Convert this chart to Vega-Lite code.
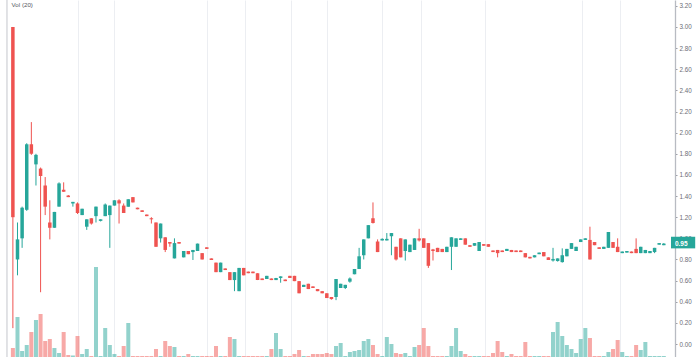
{
  "$schema": "https://vega.github.io/schema/vega-lite/v6.json",
  "width": 675,
  "height": 357,
  "autosize": {"type": "none"},
  "padding": {"left": 0, "top": 0, "right": 25, "bottom": 0},
  "background": "#ffffff",
  "config": {
    "view": {"stroke": null},
    "font": "Liberation Sans",
    "axisY": {"tickCount": 17, "format": ".2f", "title": null, "grid": true, "gridColor": "#eceef2",
              "labelOverlap": false, "labelBound": false, "labelFlush": false,
              "domainColor": "#b8bbc2", "domainWidth": 1.3, "tickColor": "#9a9da5", "tickSize": 2,
              "labelFontSize": 6.3, "labelColor": "#6a6d75", "labelPadding": 2, "labelFont": "Liberation Sans"}
  },
  "data": {"values": [
    {"i":0,"o":3.00,"h":3.00,"l":0.15,"c":1.20,"v":90},
    {"i":1,"o":0.80,"h":1.15,"l":0.65,"c":0.99,"v":400},
    {"i":2,"o":1.00,"h":1.30,"l":0.91,"c":1.29,"v":60},
    {"i":3,"o":1.27,"h":1.90,"l":1.26,"c":1.89,"v":120},
    {"i":4,"o":1.89,"h":2.10,"l":1.79,"c":1.80,"v":250},
    {"i":5,"o":1.70,"h":1.80,"l":1.50,"c":1.79,"v":370},
    {"i":6,"o":1.66,"h":1.67,"l":0.49,"c":1.59,"v":430},
    {"i":7,"o":1.50,"h":1.58,"l":1.22,"c":1.30,"v":160},
    {"i":8,"o":1.15,"h":1.36,"l":0.99,"c":1.10,"v":180},
    {"i":9,"o":1.10,"h":1.25,"l":1.10,"c":1.25,"v":90},
    {"i":10,"o":1.30,"h":1.53,"l":1.30,"c":1.52,"v":40},
    {"i":11,"o":1.46,"h":1.53,"l":1.44,"c":1.44,"v":250},
    {"i":12,"o":1.405,"h":1.41,"l":1.39,"c":1.39,"v":20},
    {"i":13,"o":1.33,"h":1.345,"l":1.30,"c":1.345,"v":15},
    {"i":14,"o":1.33,"h":1.34,"l":1.23,"c":1.24,"v":210},
    {"i":15,"o":1.22,"h":1.28,"l":1.22,"c":1.28,"v":30},
    {"i":16,"o":1.11,"h":1.18,"l":1.08,"c":1.18,"v":80},
    {"i":17,"o":1.19,"h":1.19,"l":1.13,"c":1.14,"v":10},
    {"i":18,"o":1.21,"h":1.30,"l":1.15,"c":1.30,"v":900},
    {"i":19,"o":1.165,"h":1.18,"l":1.16,"c":1.18,"v":10},
    {"i":20,"o":1.21,"h":1.33,"l":1.21,"c":1.32,"v":290},
    {"i":21,"o":1.22,"h":1.31,"l":0.91,"c":1.31,"v":120},
    {"i":22,"o":1.31,"h":1.36,"l":1.31,"c":1.36,"v":30},
    {"i":23,"o":1.36,"h":1.37,"l":1.14,"c":1.33,"v":10},
    {"i":24,"o":1.31,"h":1.33,"l":1.24,"c":1.24,"v":110},
    {"i":25,"o":1.30,"h":1.37,"l":1.30,"c":1.37,"v":340},
    {"i":26,"o":1.39,"h":1.39,"l":1.34,"c":1.34,"v":10},
    {"i":27,"o":1.29,"h":1.29,"l":1.275,"c":1.275,"v":10},
    {"i":28,"o":1.265,"h":1.265,"l":1.25,"c":1.25,"v":10},
    {"i":29,"o":1.225,"h":1.225,"l":1.21,"c":1.21,"v":10},
    {"i":30,"o":1.19,"h":1.20,"l":1.14,"c":1.18,"v":10},
    {"i":31,"o":1.15,"h":1.15,"l":0.92,"c":0.92,"v":80},
    {"i":32,"o":1.00,"h":1.14,"l":0.96,"c":1.14,"v":10},
    {"i":33,"o":1.01,"h":1.01,"l":0.87,"c":0.89,"v":160},
    {"i":34,"o":0.965,"h":0.965,"l":0.92,"c":0.95,"v":110},
    {"i":35,"o":0.81,"h":1.00,"l":0.81,"c":0.955,"v":100},
    {"i":36,"o":0.965,"h":0.965,"l":0.95,"c":0.95,"v":10},
    {"i":37,"o":0.82,"h":0.88,"l":0.82,"c":0.88,"v":10},
    {"i":38,"o":0.88,"h":0.88,"l":0.85,"c":0.85,"v":30},
    {"i":39,"o":0.87,"h":0.89,"l":0.795,"c":0.89,"v":10},
    {"i":40,"o":0.88,"h":0.95,"l":0.88,"c":0.95,"v":10},
    {"i":41,"o":0.86,"h":0.86,"l":0.80,"c":0.80,"v":10},
    {"i":42,"o":0.915,"h":0.915,"l":0.90,"c":0.90,"v":10},
    {"i":43,"o":0.81,"h":0.81,"l":0.795,"c":0.795,"v":10},
    {"i":44,"o":0.77,"h":0.77,"l":0.68,"c":0.68,"v":110},
    {"i":45,"o":0.68,"h":0.77,"l":0.68,"c":0.77,"v":10},
    {"i":46,"o":0.715,"h":0.715,"l":0.70,"c":0.70,"v":10},
    {"i":47,"o":0.68,"h":0.68,"l":0.605,"c":0.605,"v":200},
    {"i":48,"o":0.605,"h":0.68,"l":0.50,"c":0.68,"v":180},
    {"i":49,"o":0.50,"h":0.72,"l":0.50,"c":0.72,"v":10},
    {"i":50,"o":0.72,"h":0.72,"l":0.65,"c":0.65,"v":10},
    {"i":51,"o":0.685,"h":0.685,"l":0.67,"c":0.67,"v":10},
    {"i":52,"o":0.685,"h":0.685,"l":0.67,"c":0.67,"v":10},
    {"i":53,"o":0.67,"h":0.67,"l":0.605,"c":0.605,"v":10},
    {"i":54,"o":0.62,"h":0.62,"l":0.605,"c":0.605,"v":10},
    {"i":55,"o":0.615,"h":0.645,"l":0.615,"c":0.645,"v":10},
    {"i":56,"o":0.62,"h":0.62,"l":0.605,"c":0.605,"v":80},
    {"i":57,"o":0.605,"h":0.625,"l":0.605,"c":0.625,"v":240},
    {"i":58,"o":0.625,"h":0.64,"l":0.58,"c":0.64,"v":80},
    {"i":59,"o":0.61,"h":0.61,"l":0.595,"c":0.595,"v":10},
    {"i":60,"o":0.645,"h":0.645,"l":0.625,"c":0.625,"v":10},
    {"i":61,"o":0.645,"h":0.645,"l":0.595,"c":0.595,"v":30},
    {"i":62,"o":0.595,"h":0.595,"l":0.48,"c":0.48,"v":70},
    {"i":63,"o":0.54,"h":0.56,"l":0.54,"c":0.56,"v":10},
    {"i":64,"o":0.57,"h":0.57,"l":0.52,"c":0.52,"v":10},
    {"i":65,"o":0.545,"h":0.545,"l":0.53,"c":0.53,"v":30},
    {"i":66,"o":0.52,"h":0.52,"l":0.50,"c":0.50,"v":30},
    {"i":67,"o":0.50,"h":0.50,"l":0.48,"c":0.48,"v":30},
    {"i":68,"o":0.48,"h":0.48,"l":0.435,"c":0.435,"v":40},
    {"i":69,"o":0.445,"h":0.445,"l":0.42,"c":0.425,"v":30},
    {"i":70,"o":0.445,"h":0.615,"l":0.415,"c":0.615,"v":110},
    {"i":71,"o":0.53,"h":0.57,"l":0.53,"c":0.57,"v":140},
    {"i":72,"o":0.53,"h":0.56,"l":0.52,"c":0.56,"v":10},
    {"i":73,"o":0.59,"h":0.63,"l":0.58,"c":0.62,"v":50},
    {"i":74,"o":0.66,"h":0.71,"l":0.66,"c":0.71,"v":60},
    {"i":75,"o":0.71,"h":0.91,"l":0.71,"c":0.83,"v":70},
    {"i":76,"o":0.84,"h":0.99,"l":0.80,"c":0.99,"v":160},
    {"i":77,"o":1.00,"h":1.125,"l":1.00,"c":1.125,"v":180},
    {"i":78,"o":1.19,"h":1.34,"l":1.14,"c":1.145,"v":120},
    {"i":79,"o":0.97,"h":0.99,"l":0.87,"c":0.87,"v":30},
    {"i":80,"o":0.98,"h":1.00,"l":0.98,"c":0.995,"v":10},
    {"i":81,"o":0.98,"h":1.05,"l":0.98,"c":0.995,"v":200},
    {"i":82,"o":1.02,"h":1.05,"l":0.84,"c":1.05,"v":130},
    {"i":83,"o":0.92,"h":0.92,"l":0.79,"c":0.80,"v":40},
    {"i":84,"o":1.00,"h":1.00,"l":0.82,"c":0.82,"v":30},
    {"i":85,"o":0.88,"h":0.99,"l":0.79,"c":0.99,"v":40},
    {"i":86,"o":0.87,"h":0.94,"l":0.87,"c":0.94,"v":10},
    {"i":87,"o":0.89,"h":1.00,"l":0.89,"c":1.00,"v":100},
    {"i":88,"o":1.00,"h":1.09,"l":0.97,"c":0.98,"v":120},
    {"i":89,"o":1.00,"h":1.00,"l":0.91,"c":0.91,"v":290},
    {"i":90,"o":0.955,"h":0.955,"l":0.72,"c":0.74,"v":110},
    {"i":91,"o":0.895,"h":0.90,"l":0.79,"c":0.88,"v":10},
    {"i":92,"o":0.91,"h":0.91,"l":0.87,"c":0.87,"v":10},
    {"i":93,"o":0.90,"h":0.90,"l":0.87,"c":0.87,"v":10},
    {"i":94,"o":0.87,"h":0.92,"l":0.87,"c":0.92,"v":10},
    {"i":95,"o":0.92,"h":1.01,"l":0.70,"c":1.01,"v":110},
    {"i":96,"o":0.92,"h":1.00,"l":0.92,"c":1.00,"v":290},
    {"i":97,"o":0.985,"h":1.00,"l":0.985,"c":1.00,"v":60},
    {"i":98,"o":1.00,"h":1.00,"l":0.94,"c":0.94,"v":30},
    {"i":99,"o":0.935,"h":0.935,"l":0.92,"c":0.92,"v":10},
    {"i":100,"o":0.93,"h":0.955,"l":0.93,"c":0.955,"v":10},
    {"i":101,"o":0.88,"h":0.965,"l":0.88,"c":0.965,"v":10},
    {"i":102,"o":0.945,"h":0.945,"l":0.93,"c":0.93,"v":10},
    {"i":103,"o":0.945,"h":0.945,"l":0.92,"c":0.92,"v":10},
    {"i":104,"o":0.885,"h":0.885,"l":0.87,"c":0.87,"v":40},
    {"i":105,"o":0.89,"h":0.89,"l":0.82,"c":0.86,"v":160},
    {"i":106,"o":0.885,"h":0.885,"l":0.87,"c":0.87,"v":50},
    {"i":107,"o":0.88,"h":0.90,"l":0.88,"c":0.90,"v":10},
    {"i":108,"o":0.89,"h":0.89,"l":0.87,"c":0.87,"v":30},
    {"i":109,"o":0.885,"h":0.885,"l":0.87,"c":0.87,"v":10},
    {"i":110,"o":0.885,"h":0.885,"l":0.87,"c":0.87,"v":10},
    {"i":111,"o":0.86,"h":0.86,"l":0.82,"c":0.82,"v":150},
    {"i":112,"o":0.825,"h":0.825,"l":0.81,"c":0.81,"v":10},
    {"i":113,"o":0.82,"h":0.84,"l":0.82,"c":0.84,"v":10},
    {"i":114,"o":0.85,"h":0.865,"l":0.85,"c":0.865,"v":10},
    {"i":115,"o":0.87,"h":0.87,"l":0.83,"c":0.83,"v":10},
    {"i":116,"o":0.82,"h":0.82,"l":0.795,"c":0.795,"v":10},
    {"i":117,"o":0.79,"h":0.91,"l":0.78,"c":0.805,"v":250},
    {"i":118,"o":0.785,"h":0.81,"l":0.78,"c":0.81,"v":350},
    {"i":119,"o":0.775,"h":0.905,"l":0.77,"c":0.84,"v":210},
    {"i":120,"o":0.83,"h":0.90,"l":0.83,"c":0.90,"v":120},
    {"i":121,"o":0.90,"h":0.955,"l":0.90,"c":0.955,"v":80},
    {"i":122,"o":0.88,"h":0.92,"l":0.88,"c":0.92,"v":40},
    {"i":123,"o":0.965,"h":0.99,"l":0.965,"c":0.99,"v":180},
    {"i":124,"o":0.985,"h":1.00,"l":0.985,"c":1.00,"v":290},
    {"i":125,"o":0.985,"h":1.11,"l":0.80,"c":0.80,"v":190},
    {"i":126,"o":0.965,"h":0.965,"l":0.935,"c":0.935,"v":10},
    {"i":127,"o":0.915,"h":0.915,"l":0.90,"c":0.90,"v":10},
    {"i":128,"o":0.90,"h":0.92,"l":0.90,"c":0.92,"v":10},
    {"i":129,"o":0.91,"h":1.06,"l":0.91,"c":1.06,"v":50},
    {"i":130,"o":0.965,"h":0.965,"l":0.91,"c":0.91,"v":80},
    {"i":131,"o":0.92,"h":1.00,"l":0.87,"c":0.87,"v":170},
    {"i":132,"o":0.86,"h":0.875,"l":0.86,"c":0.875,"v":50},
    {"i":133,"o":0.865,"h":0.88,"l":0.865,"c":0.88,"v":10},
    {"i":134,"o":0.875,"h":0.875,"l":0.86,"c":0.86,"v":10},
    {"i":135,"o":0.90,"h":1.00,"l":0.86,"c":0.86,"v":120},
    {"i":136,"o":0.86,"h":0.92,"l":0.86,"c":0.92,"v":70},
    {"i":137,"o":0.86,"h":0.89,"l":0.86,"c":0.89,"v":150},
    {"i":138,"o":0.86,"h":0.88,"l":0.86,"c":0.88,"v":10},
    {"i":139,"o":0.87,"h":0.91,"l":0.86,"c":0.91,"v":10},
    {"i":140,"o":0.94,"h":0.955,"l":0.94,"c":0.955,"v":10},
    {"i":141,"o":0.935,"h":0.955,"l":0.935,"c":0.95,"v":10}
  ]},
  "layer": [
    {
      "mark": {"type": "bar", "size": 4, "opacity": 0.5},
      "encoding": {
        "x": {"field": "i", "type": "quantitative",
              "scale": {"domain": [-1.707, 142.34], "nice": false, "zero": false},
              "axis": {"values": [14.08, 21.98, 42.04, 50.36, 60.18, 68.08, 80.03, 88.35, 102.22, 123.35, 131.46],
                       "labels": false, "ticks": false, "domain": false, "title": null,
                       "grid": true, "gridColor": "#eceef2", "gridWidth": 1}},
        "y": {"field": "v", "type": "quantitative", "scale": {"domain": [0, 3570], "nice": false}, "axis": null},
        "color": {"condition": {"test": "datum.c >= datum.o", "value": "#26a69a"}, "value": "#ef5350"}
      }
    },
    {
      "layer": [
        {
          "mark": {"type": "rule", "strokeWidth": 1},
          "encoding": {
            "x": {"field": "i", "type": "quantitative"},
            "y": {"field": "l", "type": "quantitative",
                  "scale": {"domain": [-0.123, 3.2555], "nice": false, "zero": false},
                  "axis": {"orient": "right"}},
            "y2": {"field": "h"},
            "color": {"condition": {"test": "datum.c >= datum.o", "value": "#26a69a"}, "value": "#ef5350"}
          }
        },
        {
          "mark": {"type": "bar", "size": 3.5},
          "encoding": {
            "x": {"field": "i", "type": "quantitative"},
            "y": {"field": "o", "type": "quantitative"},
            "y2": {"field": "c"},
            "color": {"condition": {"test": "datum.c >= datum.o", "value": "#26a69a"}, "value": "#ef5350"}
          }
        },
        {
          "data": {"values": [{"edge": "left"}]},
          "mark": {"type": "rule", "color": "#c4c6cc", "strokeWidth": 1},
          "encoding": {"x": {"datum": -1.28, "type": "quantitative"}}
        },
        {
          "data": {"values": [{"label": "Vol (20)"}]},
          "mark": {"type": "text", "align": "left", "baseline": "middle", "fontSize": 6.2, "color": "#555a63", "font": "Liberation Sans"},
          "encoding": {
            "x": {"datum": -0.28, "type": "quantitative"},
            "y": {"datum": 3.208, "type": "quantitative"},
            "text": {"field": "label"}
          }
        },
        {
          "data": {"values": [{"last": 0.95}]},
          "mark": {"type": "rect", "color": "#26a69a"},
          "encoding": {
            "x": {"datum": 142.55, "type": "quantitative"},
            "x2": {"datum": 147.8},
            "y": {"datum": 1.015, "type": "quantitative"},
            "y2": {"datum": 0.905}
          }
        },
        {
          "data": {"values": [{"last": 0.95}]},
          "mark": {"type": "text", "align": "left", "baseline": "middle", "fontSize": 6.5, "color": "#ffffff", "fontWeight": "bold", "font": "Liberation Sans"},
          "encoding": {
            "x": {"datum": 143.4, "type": "quantitative"},
            "y": {"field": "last", "type": "quantitative"},
            "text": {"field": "last", "type": "quantitative", "format": ".2f"}
          }
        }
      ]
    }
  ],
  "resolve": {"scale": {"y": "independent"}}
}
